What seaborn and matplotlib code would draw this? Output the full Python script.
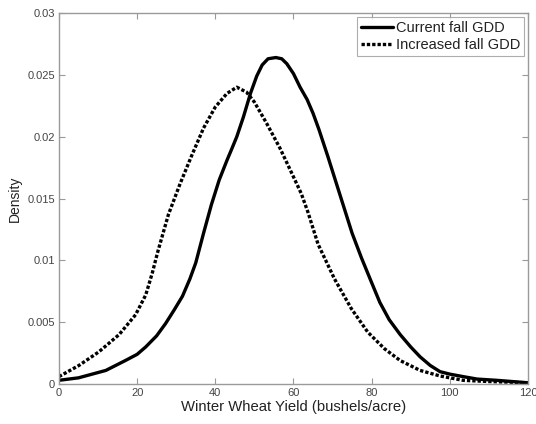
import matplotlib
matplotlib.use("Agg")
import matplotlib.pyplot as plt
import seaborn as sns
import pandas as pd

current_x = [0, 5, 8.5, 12, 17, 20, 22.2, 25, 27.3, 29.5, 31.6, 33.5, 35, 37, 39, 41, 43, 44.2,
             45.5, 47.2, 49, 50.6, 52, 53.5, 55.5, 57, 58.3, 60, 61.7, 63.5, 65, 66.5, 68.8, 71,
             73.1, 75, 77.4, 80, 82.1, 84.5, 87.3, 90, 92.4, 95, 97.5, 100, 103.4, 107, 112, 120]
current_y = [0.0003, 0.0005, 0.0008, 0.0011, 0.0019, 0.0024, 0.003, 0.0039, 0.0049, 0.006, 0.0071,
             0.0085, 0.0098, 0.0122, 0.0145, 0.0165, 0.0181, 0.0190, 0.0200, 0.0216, 0.0235,
             0.0249, 0.0258, 0.0263, 0.0264, 0.0263, 0.0259, 0.0251, 0.0240, 0.0230, 0.0219,
             0.0206, 0.0184, 0.0162, 0.0141, 0.0122, 0.0102, 0.0082, 0.0066, 0.0052, 0.0040,
             0.0030, 0.0022, 0.0015, 0.001, 0.0008, 0.0006, 0.0004, 0.0003, 0.0001]

increased_x = [0, 5.1, 10.2, 15.4, 19.6, 22.2, 23.9, 25.2, 28, 31, 34, 37, 40, 43, 45.5, 48, 50,
               53.1, 56.5, 58.6, 62, 63.7, 66.3, 70.5, 74.8, 79, 83.3, 87.3, 92.4, 97.5, 103.4,
               110, 120]
increased_y = [0.0006, 0.0015, 0.0026, 0.004, 0.0056, 0.0072, 0.0090, 0.0106, 0.0137, 0.0162,
               0.0185, 0.0207, 0.0224, 0.0235, 0.024, 0.0236, 0.0228, 0.0211, 0.0191, 0.0177,
               0.0154, 0.0139, 0.0113, 0.0085, 0.0061, 0.0042, 0.00285, 0.0019, 0.0011, 0.00065,
               0.0003, 0.0002, 0.0001]

labels = ["Current fall GDD", "Increased fall GDD"]
x_ticks = [0, 20, 40, 60, 80, 100, 120]
y_ticks = [0, 0.005, 0.01, 0.015, 0.02, 0.025, 0.03]
y_ticklabels = ["0", "0.005", "0.01", "0.015", "0.02", "0.025", "0.03"]

sns.set_theme(style="white")
plt.rcParams["font.family"] = ["Liberation Sans", "DejaVu Sans"]

fig = plt.figure(figsize=(5.36, 4.24), dpi=100)
ax = fig.add_axes([0.110, 0.0943, 0.875, 0.875])

df_cur = pd.DataFrame({"x": current_x, "y": current_y})
df_inc = pd.DataFrame({"x": increased_x, "y": increased_y})

sns.lineplot(data=df_cur, x="x", y="y", ax=ax, color="black", linewidth=2.4,
             label=labels[0], sort=True)
sns.lineplot(data=df_inc, x="x", y="y", ax=ax, color="black", linewidth=2.4,
             label=labels[1], sort=True)
ax.lines[1].set_dashes((1.0, 0.6))
ax.lines[1].set_dash_capstyle("butt")

ax.set_xlim(0, 120)
ax.set_ylim(0, 0.03)
ax.set_xticks(x_ticks)
ax.set_xticklabels([str(t) for t in x_ticks])
ax.set_yticks(y_ticks)
ax.set_yticklabels(y_ticklabels)

ax.set_xlabel("Winter Wheat Yield (bushels/acre)", fontsize=10.7, color="#222222", labelpad=1)
ax.set_ylabel("Density", fontsize=10, color="#222222", labelpad=4)

ax.tick_params(direction="in", length=4, width=0.8, color="#999999",
               labelsize=8, labelcolor="#444444", top=True, right=True,
               bottom=True, left=True, pad=3)
for s in ax.spines.values():
    s.set_color("#9a9a9a")
    s.set_linewidth(1.0)

leg = ax.legend(loc="upper right", fontsize=10.5, frameon=True, fancybox=False,
                borderaxespad=0.3, handlelength=2.2, handletextpad=0.2,
                borderpad=0.25, labelspacing=0.2)
leg.get_frame().set_edgecolor("#999999")
leg.get_frame().set_linewidth(0.8)
for line in leg.get_lines():
    line.set_linewidth(2.4)
leg.get_lines()[1].set_dashes((1.0, 0.6))
for t in leg.get_texts():
    t.set_color("#222222")

fig.savefig("out.png", dpi=100)
